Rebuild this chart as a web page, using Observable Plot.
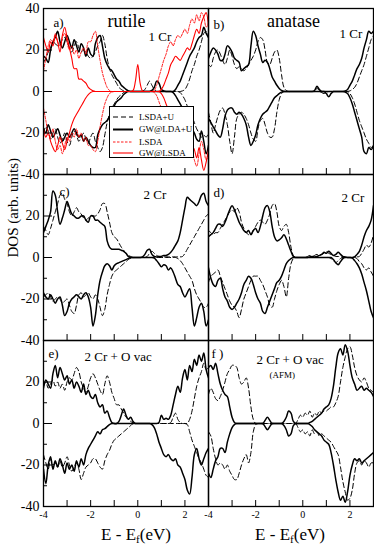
<!DOCTYPE html>
<html><head><meta charset="utf-8">
<script src="https://cdn.jsdelivr.net/npm/d3@7"></script>
<script src="https://cdn.jsdelivr.net/npm/@observablehq/plot@0.6"></script>
<style>
html,body{margin:0;padding:0;background:#fff;}
#wrap{position:relative;width:374px;height:545px;font-family:"Liberation Serif","Times New Roman",Times,"DejaVu Serif",serif;overflow:hidden;}
#wrap svg text{font-family:"Liberation Serif","Times New Roman",Times,"DejaVu Serif",serif;}
.xt{position:absolute;top:526px;font-size:17px;line-height:17px;white-space:nowrap;transform:translateX(-50%);color:#000;}
.xt sub{font-size:11px;vertical-align:-3px;line-height:0;}
</style></head><body><div id="wrap"></div>
<script>
// ---------- data ----------
const energy = [-4,-3.9,-3.8,-3.7,-3.6,-3.5,-3.4,-3.3,-3.2,-3.1,-3,-2.9,-2.8,-2.7,-2.6,-2.5,-2.4,-2.3,-2.2,-2.1,-2,-1.9,-1.8,-1.7,-1.6,-1.5,-1.4,-1.3,-1.2,-1.1,-1,-0.9,-0.8,-0.7,-0.6,-0.5,-0.4,-0.3,-0.2,-0.1,0,0.1,0.2,0.3,0.4,0.5,0.6,0.7,0.8,0.9,1,1.1,1.2,1.3,1.4,1.5,1.6,1.7,1.8,1.9,2,2.1,2.2,2.3,2.4,2.5,2.6,2.7,2.8,2.9,3];
const columns = ["rutile", "anatase"];
const rowIds = [1, 2, 3];
const methods = ["LSDA+U", "GW@LDA+U", "LSDA", "GW@LSDA"];
const xTickValues = [-4,-3,-2,-1,0,1,2,3];
const xLabelValues = [-4,-2,0,2];
const yMajorTicks = [-20,0,20];
const yMinorTicks = [-30,-10,10,30];
const yLabelsTopRow = [40,20,0,-20,-40];
const yLabelsOtherRows = [20,0,-20,-40];

// panel a (rutile, 1 Cr)
const aLUup = [14,16,19,21,24,23,22,23,25,26, 24,21,19,22,24,21,19,20,19,17, 16,17,19,22,24,27,23,16,11,8, 6,4,2,1,0.3,0,0,0,0,0, 0,0,0,1,3,5,3,1,0,0, 0,0,0,0,0,0,0,0,0,0.3, 1,3,6,10,13,17,20,24,28,29,27];
const aLUdn = [-20,-17,-19,-23,-20,-18,-22,-25,-23,-20, -24,-26,-22,-19,-21,-24,-22,-20,-23,-25, -22,-20,-24,-27,-29,-27,-21,-15,-11,-8, -6,-4,-2.5,-1.5,-0.5,0,0,0,0,0, 0,0,0,0,0,0,0,0,0,0, 0,0,0,0,0,0,0,0,-0.5,-2, -4,-7,-9,-12,-15,-18,-20,-22,-21,-22,-20];
const aGWUup = [17,16,14,20,24,26,29,24,21,24, 27,24,21,25,22,19,23,21,17,21, 18,17,23,26,27,22,16,13,11,10, 8,6,5,3,2,1,0.3,0,0,0, 0,0,0,0,0,0,0.5,2,5,4, 1,0.3,0,0,0,0,1,3,5,8, 11,14,17,19,21,24,26,27,31,28,26];
const aGWUdn = [-18,-20,-16,-19,-22,-20,-18,-21,-24,-22, -20,-22,-20,-18,-20,-22,-21,-24,-22,-24, -26,-27,-27,-21,-18,-16,-15,-14,-12,-10, -7,-5,-4,-3,-1.5,-0.5,0,0,0,0, 0,0,0,0,0,0,0,0,0,0, 0,0,0,0,0,-0.5,-2,-4,-6,-8, -10,-12,-15,-18,-20,-23,-24,-19,-24,-30,-26];
const aLup = [10,16,22,25,24,28,24,22,26,28, 24,20,22,18,20,16,19,21,18,24, 24,27,29,22,15,9,5,2,0.5,0, 0,0,0,0,0,0,0,0,0,0, 0,0,0,0,0,0,0,0.5,3,7, 11,15,18,22,24,22,25,27,26,28, 30,28,32,35,33,37,34,38,36,31,33];
const aLdn = [-8,-14,-20,-22,-18,-24,-28,-26,-30,-26, -22,-24,-20,-22,-18,-22,-20,-24,-22,-26, -26,-28,-29,-24,-17,-11,-6,-3,-1,-0.3, 0,0,0,0,0,0,0,0,0,0, 0,0,0,0,0,0,0,-0.5,-2,-5, -8,-11,-13,-15,-17,-19,-21,-20,-23,-25, -24,-27,-29,-28,-33,-36,-30,-24,-28,-33,-30];
const aGWLup = [26,22,19,24,22,27,24,19,27,31, 26,21,16,11,11,6,6,5,4,2, 1,0.3,0,0,0,0,0,0,0,0, 0,0,0,0,0,0,0,0,0.5,5, 13,4,0.3,0,0,0,0,0,0,0, 1,3,6,9,13,15,17,16,15,17, 19,21,20,23,27,30,28,33,36,38,31];
const aGWLdn = [-18,-22,-20,-24,-27,-29,-26,-22,-25,-28, -24,-20,-16,-13,-11,-9,-7,-5,-3,-1.5, -0.5,0,0,0,0,0,0,0,0,0, 0,0,0,0,0,0,0,0,0,0, 0,0,0,0,0,0,0,0,0,0, -1,-3,-6,-9,-12,-14,-16,-18,-17,-20, -22,-24,-21,-26,-28,-32,-27,-33,-38,-34,-28];

// panel b (anatase, 1 Cr)
const bLUup = [13,12,16,19,20,18,15,13,16,20, 17,13,11,12,11,10,11,13,15,17, 20,24,26,25,20,14,13,16,19,20, 16,8,2,0.5,0,0,0,0,0,0, 0,0,0,0,0,0,1.5,0.5,0,0, 0,0,0,0,0,0,0,0,0,0, 0.3,1,2,4,7,10,13,17,21,25,27];
const bLUdn = [-10,-15,-20,-16,-12,-9,-8,-11,-16,-24, -30,-22,-13,-11,-10,-11,-13,-16,-20,-23, -24,-18,-14,-13,-16,-20,-22,-22,-18,-10, -4,-1,0,0,0,0,0,0,0,0, 0,0,0,0,0,0,0,0,-0.5,-1, -0.5,0,0,0,0,0,0,0,0,0, -1,-3,-6,-10,-14,-17,-20,-23,-25,-27,-26];
const bGWUup = [16,19,21,20,18,15,15,18,22,21, 19,16,15,14,10,11,12,13,22,29, 27,22,18,14,15,14,11,7,5,3, 1.5,0.5,0,0,0,0,0,0,0,0, 0,0,0,0,0,0.5,2.5,1,0,0, 0,0,0,0,0,0,0,0,0.3,1, 3,5,8,11,13,16,21,25,29,28,29];
const bGWUdn = [-13,-15,-17,-19,-21,-22,-18,-12,-9,-8, -8,-10,-11,-10,-11,-13,-16,-22,-26,-24, -21,-16,-13,-11,-10,-9,-7,-5,-3,-2, -1,-0.3,0,0,0,0,0,0,0,0, 0,0,0,0,0,0,0,0,0,0, -1,-2.5,-1,0,0,0,0,0,-0.3,-1, -3,-6,-10,-14,-18,-22,-29,-30,-27,-28,-26];

// panel c (rutile, 2 Cr)
const cLUup = [15,13,11,14,18,22,26,30,31,28, 26,22,20,22,24,22,21,19,18,19, 20,20,20,21,23,26,26,22,17,12, 10,9,7,5,3.5,2,1,0.5,0,0, 0,0,0,0,0.5,2,3,2,1,0.5, 0.3,0.3,0.3,0.3,0.3,0.3,0.3,0.3,0.3,0.5, 2,4,6,8,10,12,14,16,18,20,21];
const cLUdn = [-19,-18,-17,-19,-21,-20,-19,-20,-22,-21, -20,-23,-26,-27,-23,-18,-17,-19,-18,-17, -19,-20,-18,-20,-24,-28,-25,-18,-13,-9, -7,-6,-5,-4,-3,-2,-1,-0.3,0,0, 0,0,0,0,0,0,0,0,0,0, 0,0,0,0,0,0,0,-0.5,-1.5,-3, -5,-7,-9,-11,-15,-18,-20,-22,-24,-24,-22];
const cGWUup = [12,15,18,22,32,30,22,16,19,23, 27,24,21,20,19,19,20,20,18,17, 20,20,18,18,17,16,15,8,5,4, 4,4,4,3.5,3,2,0.5,0,0,0, 0,0,0.3,1.5,3.5,4,1.5,0.5,0.3,0.5, 0.5,1,1,1.5,2.5,4,6,8,12,18, 24,29,28,27,26,25,27,30,31,27,25];
const cGWUdn = [-17,-19,-20,-18,-20,-22,-20,-19,-23,-28, -26,-22,-20,-19,-18,-19,-20,-18,-17,-19, -24,-33,-28,-18,-11,-7,-4,-3,-4,-6, -4,-3,-2.5,-2,-1.5,-1,-0.5,0,0,0, 0,0,0,0,0,0,0,-0.3,-1.5,-3, -4.5,-3.5,-4,-6,-5,-7,-10,-13,-14,-17, -19,-17,-15,-24,-33,-29,-24,-22,-26,-33,-30];

// panel d (anatase, 2 Cr)
const dLUup = [13,12,11,12,12,14,16,18,20,22, 23,22,24,22,17,14,12,11,11,13, 15,17,18,17,16,18,21,25,26,22, 15,13,15,16,12,5,1,0,0,0, 0,0,0.5,1,0.5,1,1.5,1,1.5,2, 3,2,1.5,1,0.5,0.5,0.3,0,0,0, 0,0,0.3,0.3,0.5,2,4,6,5,7,11];
const dLUdn = [-12,-9,-8,-7,-6,-9,-12,-15,-18,-21, -23,-24,-26,-29,-25,-20,-17,-14,-11,-9, -9,-9,-11,-13,-16,-19,-23,-24,-20,-16, -13,-11,-14,-19,-10,-3,-0.5,0,0,0, 0,0,0,0,0,0,0,0,0,0, 0,0,-0.5,-1.5,-2.5,-1.5,-0.5,0,0,0, 0,0,0,-0.5,-2,-3,-5,-6,-5,-7,-9];
const dGWUup = [10,11,12,14,16,16,15,17,20,23, 25,23,20,17,15,13,12,13,11,13, 14,12,15,20,24,25,22,15,10,8, 8.5,9.5,11,9,6,3,0.5,0,0,0, 0,0,0,0.3,0.5,0.3,0.5,1,1.5,2.5, 2,3,2,1,1.5,2.5,1.5,0.5,0.3,0, 0,0,0.3,1.5,3,6,10,13,15,18,25];
const dGWUdn = [-5,-10,-13,-14,-11,-10,-15,-19,-21,-24, -25,-24,-22,-20,-17,-13,-11,-9,-10,-13, -17,-20,-22,-26,-27,-24,-21,-18,-15,-12, -11,-9,-6,-3,-1.5,-0.5,0,0,0,0, 0,0,0,0,0,0,0,0,0,0, 0,0,0,-1,-2.5,-3.5,-2,-0.5,0,0, 0,-0.3,-1.5,-3,-5,-8,-12,-16,-21,-26,-29];

// panel e (rutile, 2 Cr + O vac)
const eLUup = [18,20,17,19,21,18,20,17,19,16, 20,22,21,24,27,25,20,17,15,18, 22,24,22,19,16,14,19,23,20,15, 12,9,9,7,5,3,2,1,0.3,0, 0,0,0,0,0,0,0,0,0,0, 0,0,0,0,0.5,3,5,2,0.5,0, 0,0,2,6,12,18,22,25,29,26,27];
const eLUdn = [-15,-19,-22,-17,-20,-19,-21,-18,-21,-19, -16,-20,-23,-21,-19,-22,-27,-24,-21,-20, -19,-17,-17,-19,-21,-22,-18,-15,-13,-10, -8,-7,-6,-5,-4,-3,-2,-1,0,0, 0,0,0,0,0,0,0,0,0,0, 0,0,0,0,0,0,0,0,0,0, 0,-0.5,-4,-8,-11,-14,-17,-19,-22,-25,-26];
const eGWUup = [17,21,19,17,24,28,22,27,24,21, 23,19,21,17,20,18,15,19,14,16, 13,12,14,10,8,9,5,6,3,0.5, 0,0,1,4,7,4,2,3,1,0, 0,0,0,0,0,0,0,0,0,0.5, 4,2,2.5,2,4,9,14,18,15,22, 26,21,28,25,31,28,33,30,34,26,22];
const eGWUdn = [-22,-29,-20,-16,-22,-18,-21,-17,-20,-24, -19,-22,-20,-23,-18,-21,-17,-20,-15,-12, -10,-8,-6,-4,-5,-3,-2.5,-1.5,-0.5,0, 0,0,0,0,0,0,0,0,0,0, 0,0,0,0,0,0,-0.5,-2,-5,-9, -12,-15,-16,-15,-17,-18,-17,-20,-21,-24, -27,-32,-34,-26,-15,-12,-17,-20,-17,-14,-12];

// panel f (anatase, 2 Cr + O vac, AFM)
const fLUup = [14,17,15,12,11,13,16,20,24,26, 28,28,27,22,19,20,22,17,8,2, 0,0,0,0,0,0,0,0,0,0, 0,0,0,0,0,0,0,0,2,4, 3,5,4,6,3,5,4,6,5,6, 6,7,8,8,10,13,20,27,32,36, 37,33,27,23,21,20,22,20,17,16,15];
const fLUdn = [-4,-6,-12,-17,-20,-19,-20,-22,-20,-23, -25,-27,-27,-24,-20,-17,-15,-19,-14,-4, -0.5,0,0,0,0,0,0,0,0,0, 0,0,0,0,0,0,0,0,-2,-4, -3,-5,-4,-6,-3,-5,-4,-6,-5,-6, -7,-8,-9,-11,-13,-15,-21,-28,-33,-37, -36,-32,-24,-19,-18,-20,-18,-19,-21,-19,-19];
const fGWUup = [27,28,26,29,24,19,16,14,13,8, 3,0.5,0,0,0,0,0,0,0,0, 0,0,0,0,1.5,3,1.5,0,0,0, 0,0,1,3,6,5,1,0,0,0, 0,0,0,0.5,1,2,3,4,5,7, 8,9,12,18,27,34,36,33,38,35, 28,22,19,16,17,18,16,17,16,15,13];
const fGWUdn = [-24,-26,-22,-18,-16,-12,-12,-14,-9,-5, -2,-0.5,0,0,0,0,0,0,0,0, 0,0,0,0,-1.5,-3,-1.5,0,0,0, 0,0,-1,-3,-6,-5,-1,0,0,0, 0,0,0,-0.5,-1.5,-3,-4,-5,-6,-8, -9,-10,-14,-20,-27,-33,-37,-35,-38,-33, -25,-20,-17,-18,-17,-19,-18,-17,-16,-15,-14];

const curves = [
  {col:"rutile", row:1, method:"LSDA+U", up:aLUup, dn:aLUdn},
  {col:"rutile", row:1, method:"GW@LDA+U", up:aGWUup, dn:aGWUdn},
  {col:"rutile", row:1, method:"LSDA", up:aLup, dn:aLdn},
  {col:"rutile", row:1, method:"GW@LSDA", up:aGWLup, dn:aGWLdn},
  {col:"anatase", row:1, method:"LSDA+U", up:bLUup, dn:bLUdn},
  {col:"anatase", row:1, method:"GW@LDA+U", up:bGWUup, dn:bGWUdn},
  {col:"rutile", row:2, method:"LSDA+U", up:cLUup, dn:cLUdn},
  {col:"rutile", row:2, method:"GW@LDA+U", up:cGWUup, dn:cGWUdn},
  {col:"anatase", row:2, method:"LSDA+U", up:dLUup, dn:dLUdn},
  {col:"anatase", row:2, method:"GW@LDA+U", up:dGWUup, dn:dGWUdn},
  {col:"rutile", row:3, method:"LSDA+U", up:eLUup, dn:eLUdn},
  {col:"rutile", row:3, method:"GW@LDA+U", up:eGWUup, dn:eGWUdn},
  {col:"anatase", row:3, method:"LSDA+U", up:fLUup, dn:fLUdn},
  {col:"anatase", row:3, method:"GW@LDA+U", up:fGWUup, dn:fGWUdn}
];

// ---------- build table ----------
const table = [];
curves.forEach((c, ci) => {
  [["up", c.up], ["dn", c.dn]].forEach(([spin, vals]) => {
    vals.forEach((v, i) => table.push({E: energy[i], dos: v, col: c.col, row: c.row, method: c.method, key: ci + spin}));
  });
});

const styleOf = {
  "LSDA+U":   {stroke: "#000", strokeWidth: 1.0, strokeDasharray: "5,3"},
  "GW@LDA+U": {stroke: "#000", strokeWidth: 1.5},
  "LSDA":     {stroke: "#f00", strokeWidth: 0.9, strokeDasharray: "2.5,1.5"},
  "GW@LSDA":  {stroke: "#f00", strokeWidth: 1.1}
};

const FONT = "'Liberation Serif', 'Times New Roman', Times, 'DejaVu Serif', serif";
const W = 374, H = 545, mT = 7, mB = 38, mL = 42, mR = 1;
const colW = (W - mL - mR) / 2, rowH = (H - mT - mB) / 3;
const xSpan = 7, ySpan = 80;

const allFacets = [];
columns.forEach(col => rowIds.forEach(row => allFacets.push({col, row})));
const xTickRows = allFacets.flatMap(f => xTickValues.map(v => ({...f, v})));
const xLabelRows = columns.flatMap(col => xLabelValues.map(v => ({col, row: 3, v})));
const yMajorRows = rowIds.flatMap(row => yMajorTicks.map(v => ({col: "rutile", row, v})));
const yMinorRows = rowIds.flatMap(row => yMinorTicks.map(v => ({col: "rutile", row, v})));
const yLabelRows = rowIds.flatMap(row => (row === 1 ? yLabelsTopRow : yLabelsOtherRows).map(v => ({col: "rutile", row, v})));

function label(text, col, row, dx, dy, opts = {}) {
  return Plot.text([{text, col, row}], {text: "text", fx: "col", fy: "row", frameAnchor: "top-left", textAnchor: "start", lineAnchor: "middle", dx, dy, fontSize: 13, fill: "#000", fontFamily: FONT, ...opts});
}

const chart = Plot.plot({
  width: W, height: H,
  marginTop: mT, marginBottom: mB, marginLeft: mL, marginRight: mR,
  x: {domain: [-4, 3], axis: null},
  y: {domain: [-40, 40], axis: null},
  fx: {domain: columns, padding: 0, axis: null},
  fy: {domain: rowIds, padding: 0, axis: null},
  style: {fontFamily: FONT, fontSize: "14px", background: "#fff", color: "#000", overflow: "visible"},
  marks: [
    ...methods.map(m => Plot.line(table.filter(d => d.method === m), {
      x: "E", y: "dos", z: "key", fx: "col", fy: "row", curve: "catmull-rom", clip: true, ...styleOf[m]
    })),
    Plot.ruleX(xTickRows, {x: "v", fx: "col", fy: "row", y1: -40, y2: -40 + 6 * ySpan / rowH, stroke: "#000", strokeWidth: 1}),
    Plot.ruleY(yMajorRows, {y: "v", fx: "col", fy: "row", x1: -4, x2: -4 + 9 * xSpan / colW, stroke: "#000", strokeWidth: 1}),
    Plot.ruleY(yMinorRows, {y: "v", fx: "col", fy: "row", x1: -4, x2: -4 + 4 * xSpan / colW, stroke: "#000", strokeWidth: 1}),
    Plot.frame({stroke: "#000", strokeWidth: 1.3}),
    Plot.text(yLabelRows, {y: "v", fx: "col", fy: "row", text: d => String(d.v), frameAnchor: "left", dx: -4, textAnchor: "end", fontSize: 14, fill: "#000", fontFamily: FONT}),
    Plot.text(xLabelRows, {x: "v", fx: "col", fy: "row", text: d => String(d.v), frameAnchor: "bottom", dy: 11, fontSize: 10, fill: "#000", fontFamily: FONT}),
    Plot.text([{col: "rutile", row: 2}], {fx: "col", fy: "row", text: () => "DOS (arb. units)", frameAnchor: "left", dx: -30, rotate: -90, fontSize: 15, fill: "#000", fontFamily: FONT}),
    label("rutile", "rutile", 1, 83, 12.6, {fontSize: 18, textAnchor: "middle"}),
    label("anatase", "anatase", 1, 85, 12.6, {fontSize: 18, textAnchor: "middle"}),
    label("a)", "rutile", 1, 10, 14.8),
    label("1 Cr", "rutile", 1, 105, 28.8),
    label("b)", "anatase", 1, 5, 16.8),
    label("1 Cr", "anatase", 1, 131, 25.8),
    label("c)", "rutile", 2, 16, 17),
    label("2 Cr", "rutile", 2, 100, 20),
    label("d)", "anatase", 2, 5, 18),
    label("2 Cr", "anatase", 2, 133, 23),
    label("e)", "rutile", 3, 5, 13.5),
    label("2 Cr + O vac", "rutile", 3, 41, 16.5),
    label("f )", "anatase", 3, 3, 13.5),
    label("2 Cr + O vac", "anatase", 3, 48, 19.5),
    label("(AFM)", "anatase", 3, 61, 34.8, {fontSize: 9})
  ]
});

const wrap = document.getElementById("wrap");
wrap.appendChild(chart);

// legend (inside panel a)
const leg = d3.select(wrap).append("svg")
  .attr("width", 86).attr("height", 53)
  .style("position", "absolute").style("left", "109px").style("top", "106px");
leg.append("rect").attr("x", 0.5).attr("y", 0.5).attr("width", 84).attr("height", 51)
  .attr("fill", "#fff").attr("stroke", "#000").attr("stroke-width", 1);
const legY = [11, 23.5, 36, 47];
methods.forEach((m, i) => {
  const s = styleOf[m];
  leg.append("line").attr("x1", 4).attr("x2", 24).attr("y1", legY[i]).attr("y2", legY[i])
    .attr("stroke", s.stroke).attr("stroke-width", m === "GW@LDA+U" ? 2 : s.strokeWidth)
    .attr("stroke-dasharray", s.strokeDasharray || null);
  leg.append("text").attr("x", 30).attr("y", legY[i]).attr("dy", "0.33em")
    .attr("font-family", FONT).attr("font-size", 9).attr("fill", "#000").text(m);
});

// x-axis titles
[136, 290].forEach(cx => {
  const div = document.createElement("div");
  div.className = "xt";
  div.style.left = cx + "px";
  div.innerHTML = "E - E<sub>f</sub>(eV)";
  wrap.appendChild(div);
});
</script></body></html>
